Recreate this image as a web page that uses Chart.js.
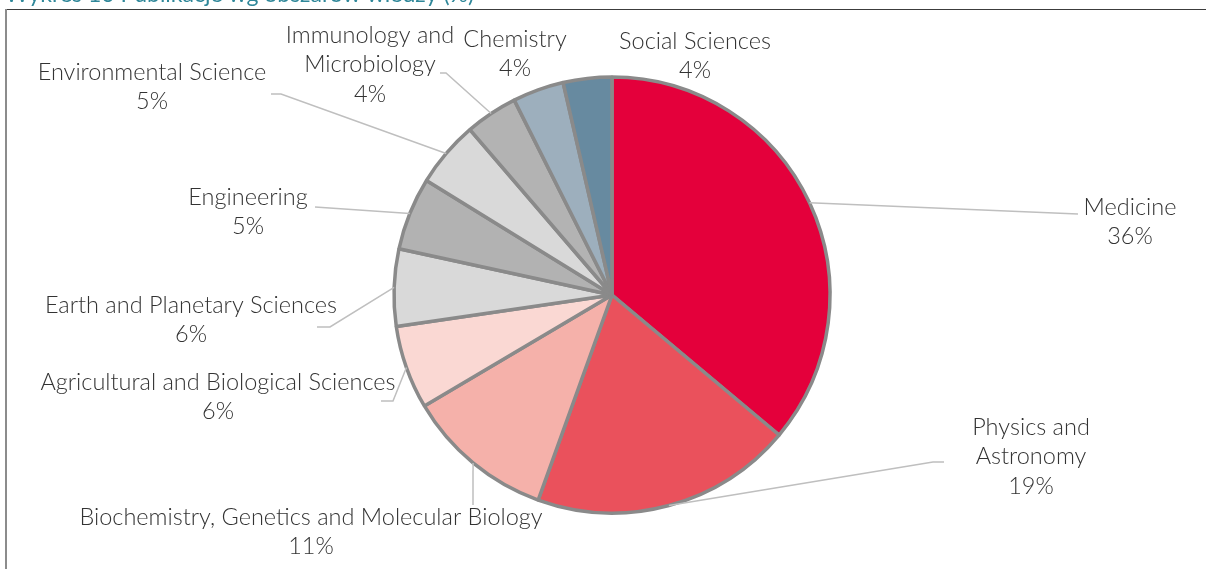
<!DOCTYPE html>
<html>
<head>
<meta charset="utf-8">
<script src="https://cdn.jsdelivr.net/npm/chart.js@4.4.1/dist/chart.umd.min.js"></script>
<style>
  html, body { margin: 0; padding: 0; background: #fff; overflow: hidden; }
  #wrap { position: relative; width: 1206px; height: 569px; }
</style>
</head>
<body>
<div id="wrap"><canvas id="chart" width="1206" height="569"></canvas></div>
<script>
// data (share of publications, %)
const categories = [
    "Medicine", "Physics and Astronomy", "Biochemistry, Genetics and Molecular Biology",
    "Agricultural and Biological Sciences", "Earth and Planetary Sciences", "Engineering",
    "Environmental Science", "Immunology and Microbiology", "Chemistry", "Social Sciences"
];
const shares = [36.1, 19.4, 11.0, 6.2, 5.7, 5.4, 4.9, 3.9, 3.8, 3.6];
// how each category name is broken into lines on the chart
const labelLines = [
    ["Medicine"], ["Physics and", "Astronomy"], ["Biochemistry, Genetics and Molecular Biology"],
    ["Agricultural and Biological Sciences"], ["Earth and Planetary Sciences"], ["Engineering"],
    ["Environmental Science"], ["Immunology and", "Microbiology"], ["Chemistry"], ["Social Sciences"]
];
const sliceColors = [
    "#E4003B", "#EA515C", "#F5B1AA", "#FAD8D3", "#D9D9D9",
    "#B2B2B2", "#D9D9D9", "#B3B3B3", "#9DAFBD", "#678AA0"
];

// label placement, offsets from pie centre: text centre + leader line bends
const labelPos = [
    { tx: 518, ty: -88, lead: [[466, -81]] },
    { tx: 419, ty: 132, lead: [[321, 167], [332, 167]] },
    { tx: -301, ty: 222, lead: [[-139, 210]] },
    { tx: -394, ty: 87, lead: [[-219, 106], [-231, 106]] },
    { tx: -421, ty: 10, lead: [[-282, 32], [-295, 32]] },
    { tx: -364, ty: -98, lead: [[-297, -88]] },
    { tx: -460, ty: -223, lead: [[-331, -201], [-341, -201]] },
    { tx: -242, ty: -260, lead: [[-166, -222], [-172, -222]] },
    { tx: -97, ty: -256, lead: null },
    { tx: 83, ty: -254, lead: null }
];

const FONT = '300 23.5px Lato, "Open Sans", sans-serif';
const LINE_H = 29.5;

const framePlugin = {
    id: 'frame',
    beforeDraw(chart) {
        const c = chart.ctx;
        c.save();
        c.fillStyle = '#2F8799';
        c.font = '23px Lato, sans-serif';
        c.textBaseline = 'alphabetic';
        c.fillText('Wykres 10 Publikacje wg obszarów wiedzy (%)', 5, 2);
        c.strokeStyle = '#3c3c3c';
        c.lineWidth = 1;
        c.beginPath();
        c.moveTo(6, 9.5);
        c.lineTo(1206, 9.5);
        c.stroke();
        c.strokeStyle = '#8c8c8c';
        c.lineWidth = 2;
        c.beginPath();
        c.moveTo(6, 9);
        c.lineTo(6, 569);
        c.stroke();
        c.restore();
    }
};

const labelPlugin = {
    id: 'outLabels',
    afterDatasetsDraw(chart) {
        const c = chart.ctx;
        const arcs = chart.getDatasetMeta(0).data;
        c.save();
        arcs.forEach((arc, i) => {
            const p = labelPos[i];
            const cx = arc.x, cy = arc.y;
            if (p.lead) {
                const mid = (arc.startAngle + arc.endAngle) / 2;
                const r = arc.outerRadius;
                c.strokeStyle = '#BFBFBF';
                c.lineWidth = 1.5;
                c.beginPath();
                c.moveTo(cx + Math.cos(mid) * r, cy + Math.sin(mid) * r);
                p.lead.forEach(pt => c.lineTo(cx + pt[0], cy + pt[1]));
                c.stroke();
            }
            const lines = labelLines[i].concat([Math.round(shares[i]) + '%']);
            c.fillStyle = '#333333';
            c.font = FONT;
            c.textAlign = 'center';
            c.textBaseline = 'middle';
            lines.forEach((t, k) => c.fillText(t, cx + p.tx, cy + p.ty + k * LINE_H));
        });
        c.restore();
    }
};

const ctx = document.getElementById('chart').getContext('2d');
const chart = new Chart(ctx, {
    type: 'pie',
    data: {
        labels: categories,
        datasets: [{
            data: shares,
            backgroundColor: sliceColors,
            borderColor: '#8A8A8A',
            borderWidth: 3.5
        }]
    },
    options: {
        responsive: false,
        animation: false,
        radius: 218,
        layout: { padding: { left: 18, right: 0, top: 21, bottom: 0 } },
        plugins: { legend: { display: false }, tooltip: { enabled: false } }
    },
    plugins: [framePlugin, labelPlugin]
});
</script>
</body>
</html>
